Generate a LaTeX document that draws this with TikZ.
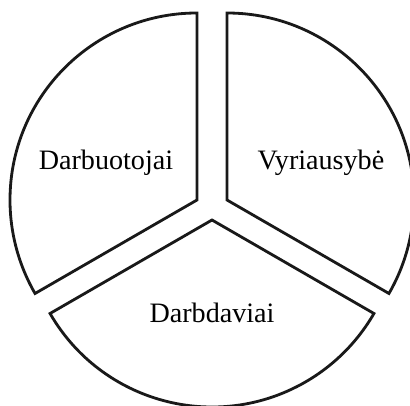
\documentclass[tikz,border=0pt]{standalone}
\usepackage{fontspec}
\setmainfont{Liberation Serif}
\usepackage{tikz}

\begin{document}
\begin{tikzpicture}[
  x=0.025cm, y=0.025cm,
  every node/.style={font=\fontsize{20}{24}\selectfont, anchor=base},
  sector/.style={draw=black!90, line width=2pt, line join=miter}
]

\useasboundingbox (0,0) rectangle (410,406);

\def\rad{187}

\coordinate (Cl) at (197,206);
\coordinate (Cr) at (227,206);
\coordinate (Cb) at (212,186);

% three parts of the circle
\draw[sector] (Cl) -- ++(90:\rad) arc[start angle=90, end angle=210, radius=\rad] -- cycle;
\draw[sector] (Cr) -- ++(90:\rad) arc[start angle=90, end angle=-30, radius=\rad] -- cycle;
\draw[sector] (Cb) -- ++(210:\rad) arc[start angle=210, end angle=330, radius=\rad] -- cycle;

\node (workers) at (106,236) {Darbuotojai};
\node (gov) at (321,236) {Vyriausybė};
\node (employers) at (212,83) {Darbdaviai};

\end{tikzpicture}
\end{document}
